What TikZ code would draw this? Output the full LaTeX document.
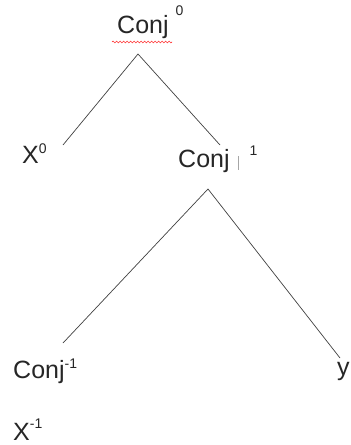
\documentclass[tikz,border=0pt]{standalone}
\usepackage{fontspec}
\setmainfont{Liberation Sans}
\usetikzlibrary{decorations.pathmorphing}
\newcommand{\up}[2][11pt]{\raisebox{#1}{\fontsize{14}{16}\selectfont #2}}
\begin{document}
\begin{tikzpicture}[x=1pt,y=-1pt,
    lbl/.style={anchor=base west,inner sep=0pt,text=black!85,
        font=\fontsize{25}{30}\selectfont},
    branch/.style={black!75,line width=0.7pt}]
    \useasboundingbox (0,0) rectangle (351,445);

    % labels
    \node[lbl] (conj0) at (117,33) {Conj\hspace{7pt}\up[18pt]{0}};
    \node[lbl] (x0) at (22,163) {X\up[10pt]{0}};
    \node[lbl] (conj1) at (178,167) {Conj\hspace{20pt}\up[12pt]{1}};
    \node[lbl] (conjm1) at (13,378) {Conj\up[10pt]{-1}};
    \node[lbl] (xm1) at (13,440) {X\up[12pt]{-1}};
    \node[lbl] (y) at (337,375) {y};

    % spell check line and cursor
    \draw[red!80,line width=0.6pt,decorate,
        decoration={snake,amplitude=0.9pt,segment length=3.5pt}]
        (112,42) -- (172,42);
    \draw[gray!70,line width=0.9pt] (238,156) -- (238,170);

    % tree
    \coordinate (top) at (138,54);
    \coordinate (left) at (63,145);
    \coordinate (mid) at (220,145);
    \coordinate (sub) at (208,189);
    \coordinate (subl) at (63,343);
    \coordinate (subr) at (340,358);
    \draw[branch] (left) -- (top) -- (mid);
    \draw[branch] (subl) -- (sub) -- (subr);
\end{tikzpicture}
\end{document}
